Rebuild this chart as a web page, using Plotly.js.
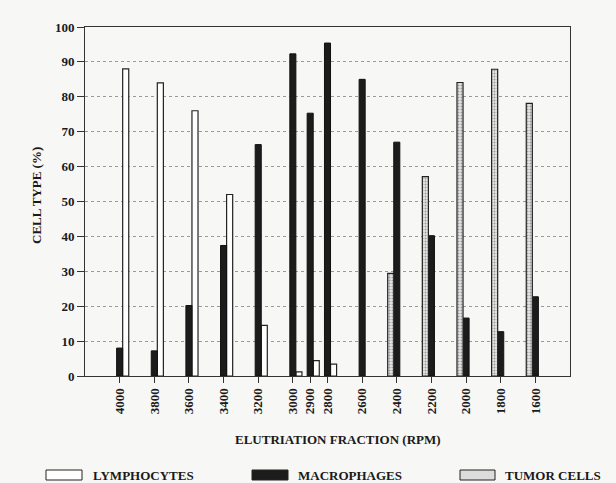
<!DOCTYPE html>
<html>
<head>
<meta charset="utf-8">
<script src="https://cdn.plot.ly/plotly-2.35.2.min.js"></script>
<style>html,body{margin:0;padding:0;background:#f7f7f5;}#chart{width:616px;height:483px;}</style>
</head>
<body>
<div id="chart"></div>
<script>
// RPM fractions (x positions)
const rpm = [4000, 3800, 3600, 3400, 3200, 3000, 2900, 2800, 2600, 2400, 2200, 2000, 1800, 1600];
const tickLabels = ["4000","3800","3600","3400","3200","3000","2900","2800","2600","2400","2200","2000","1800","1600"];
// Series values (%)
const lymphRpm = [4000, 3800, 3600, 3400, 3200, 3000, 2900, 2800];
const lymphocytes = [88, 84, 76, 52, 14.5, 1.2, 4.4, 3.4];
const macroRpm = [4000, 3800, 3600, 3400, 3200, 3000, 2900, 2800, 2600, 2400, 2200, 2000, 1800, 1600];
const macrophages = [8, 7.2, 20.2, 37.4, 66.3, 92.3, 75.3, 95.4, 85, 67, 40.2, 16.6, 12.7, 22.7];
const tumorRpm = [2400, 2200, 2000, 1800, 1600];
const tumorCells = [29.4, 57.1, 84.1, 87.9, 78.1];
const seriesNames = ["LYMPHOCYTES", "MACROPHAGES", "TUMOR CELLS"];

const FONT = "Liberation Serif, Times New Roman, serif";
const BW = 35;

const traces = [
  {type:'bar', name:seriesNames[0], x:lymphRpm, y:lymphocytes, width:BW, offset:-BW*1.5,
   marker:{color:'#ffffff', line:{color:'#222', width:1.2}}},
  {type:'bar', name:seriesNames[1], x:macroRpm, y:macrophages, width:BW, offset:-BW*0.5,
   marker:{color:'#1c1c1c', line:{color:'#111', width:1}}},
  {type:'bar', name:seriesNames[2], x:tumorRpm, y:tumorCells, width:BW, offset:BW*0.5,
   marker:{color:'#dcdcdc', pattern:{shape:'.', fgcolor:'#9a9a9a', bgcolor:'#e6e6e6', size:3, solidity:0.35},
           line:{color:'#222', width:1.2}}}
];

// plot area in pixels: left 85, right 570, top 27, bottom 376
const L=85, R=570, T=27, B=376;
const px = x => (x-L)/(R-L);
const py = y => (B-y)/(B-T);

const shapes = [];
const annotations = [];
// legend (manual)
const legendItems = [
  {box:[46,82], text:91, fill:'#ffffff'},
  {box:[252,288], text:296, fill:'#1c1c1c'},
  {box:[460,495], text:503, fill:'#dcdcdc'}
];
legendItems.forEach((it,i)=>{
  shapes.push({type:'rect', xref:'paper', yref:'paper', x0:px(it.box[0]), x1:px(it.box[1]), y0:py(480), y1:py(470),
    fillcolor:it.fill, line:{color:'#222', width:1}});
  annotations.push({xref:'paper', yref:'paper', x:px(it.text), y:py(476), xanchor:'left', yanchor:'middle',
    text:seriesNames[i], showarrow:false, font:{family:FONT, size:13, color:'#1a1a1a', weight:'bold'}});
});
annotations.push({xref:'paper', yref:'paper', x:px(338), y:py(439), xanchor:'center', yanchor:'middle',
  text:'<b>ELUTRIATION FRACTION (RPM)</b>', showarrow:false, font:{family:FONT, size:13, color:'#1a1a1a'}});
annotations.push({xref:'paper', yref:'paper', x:px(36), y:py(196), xanchor:'center', yanchor:'middle', textangle:-90,
  text:'<b>CELL TYPE (%)</b>', showarrow:false, font:{family:FONT, size:13, color:'#1a1a1a'}});

const layout = {
  width:616, height:483,
  margin:{l:L, r:616-R, t:T, b:483-B, pad:0},
  paper_bgcolor:'#f7f7f5', plot_bgcolor:'#f7f7f5',
  barmode:'overlay',
  showlegend:false,
  font:{family:FONT, color:'#1a1a1a'},
  xaxis:{range:[4200,1400], tickvals:rpm, ticktext:tickLabels, tickangle:-90,
    ticks:'outside', ticklen:6, tickcolor:'#333', tickwidth:1,
    tickfont:{family:FONT, size:13, color:'#1a1a1a', weight:'bold'},
    showgrid:false, zeroline:false, showline:true, linecolor:'#333', linewidth:1, mirror:true, fixedrange:true},
  yaxis:{range:[0,100], dtick:10, tick0:0, ticks:'outside', ticklen:7, tickcolor:'#333', tickwidth:1,
    tickfont:{family:FONT, size:13, color:'#1a1a1a', weight:'bold'},
    showgrid:true, gridcolor:'#9a9a9a', griddash:'dot', gridwidth:1,
    zeroline:false, showline:true, linecolor:'#333', linewidth:1, mirror:true, fixedrange:true},
  shapes:shapes,
  annotations:annotations
};

Plotly.newPlot('chart', traces, layout, {staticPlot:true, displayModeBar:false});
</script>
</body>
</html>
